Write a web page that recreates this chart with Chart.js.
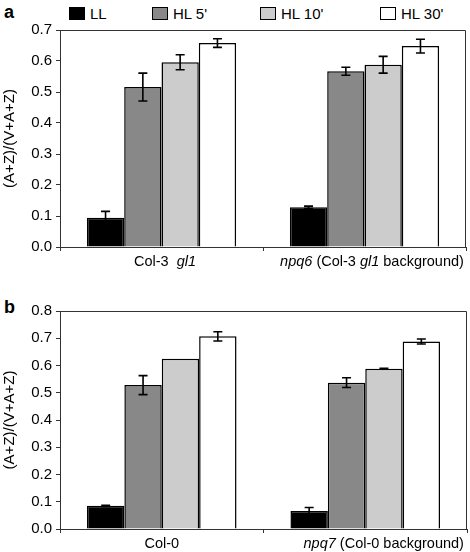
<!DOCTYPE html>
<html>
<head>
<meta charset="utf-8">
<script src="https://cdn.jsdelivr.net/npm/chart.js@4.4.0/dist/chart.umd.min.js"></script>
<style>
  body { margin: 0; background: #fff; font-family: "Liberation Sans", Arial, sans-serif; }
  #wrap { position: relative; width: 470px; height: 552px; }
  canvas { position: absolute; left: 0; }
  .panel { position: absolute; left: 4px; font-weight: bold; font-size: 18px; line-height: 18px; }
  .item { position: absolute; top: 6px; height: 15px; display: flex; align-items: center; font-size: 15px; }
  .sw { width: 14px; height: 11px; border: 1.5px solid #000; margin-right: 5px; }
</style>
</head>
<body>
<div id="wrap">
  <div class="panel" style="top:3px">a</div>
  <div class="panel" style="top:298px">b</div>
  <div id="legend"></div>
  <canvas id="chartA" width="470" height="270" style="top:0"></canvas>
  <canvas id="chartB" width="470" height="282" style="top:270px"></canvas>
</div>
<script>
// series (legend) names and fills
const seriesNames = ["LL", "HL 5'", "HL 10'", "HL 30'"];
const seriesColors = ['#000000', '#888888', '#cccccc', '#ffffff'];

// x labels, as [text, italic] pieces
const labelsA = [
  [['Col-3  ', false], ['gl1', true]],
  [['npq6', true], [' (Col-3 ', false], ['gl1', true], [' background)', false]]
];
const labelsB = [
  [['Col-0', false]],
  [['npq7', true], [' (Col-0 background)', false]]
];

// panel a: one row per series, one value per genotype
const meansA = [
  [0.094, 0.128],
  [0.516, 0.567],
  [0.596, 0.588],
  [0.658, 0.648]
];
const errorsA = [
  [0.021, 0.004],
  [0.045, 0.013],
  [0.024, 0.027],
  [0.014, 0.022]
];
const ticksA = [0, 0.1, 0.2, 0.3, 0.4, 0.5, 0.6, 0.7];

// panel b
const meansB = [
  [0.085, 0.066],
  [0.528, 0.537],
  [0.625, 0.588],
  [0.707, 0.688]
];
const errorsB = [
  [0.002, 0.013],
  [0.035, 0.018],
  [0, 0.002],
  [0.017, 0.009]
];
const ticksB = [0, 0.1, 0.2, 0.3, 0.4, 0.5, 0.6, 0.7, 0.8];

Chart.defaults.font.family = '"Liberation Sans", Arial, sans-serif';
Chart.defaults.font.size = 15;
Chart.defaults.color = '#000';

// legend in html
const legendX = [69, 152, 260, 380];
const legend = document.getElementById('legend');
seriesNames.forEach((name, i) => {
  const it = document.createElement('div');
  it.className = 'item';
  it.style.left = legendX[i] + 'px';
  it.innerHTML = '<span class="sw" style="background:' + seriesColors[i] + '"></span>';
  it.appendChild(document.createTextNode(name));
  legend.appendChild(it);
});

// error bars drawn from the data through the y scale
const errorBars = {
  id: 'errorBars',
  afterDatasetsDraw(chart) {
    const ctx = chart.ctx, y = chart.scales.y;
    ctx.save();
    ctx.strokeStyle = '#000';
    ctx.lineWidth = 1.6;
    chart.data.datasets.forEach((ds, i) => {
      chart.getDatasetMeta(i).data.forEach((bar, j) => {
        const e = ds.errors[j];
        if (!e) return;
        const top = y.getPixelForValue(ds.data[j] + e);
        const bot = y.getPixelForValue(ds.data[j] - e);
        ctx.beginPath();
        ctx.moveTo(bar.x, top); ctx.lineTo(bar.x, bot);
        ctx.moveTo(bar.x - 4.5, top); ctx.lineTo(bar.x + 4.5, top);
        ctx.moveTo(bar.x - 4.5, bot); ctx.lineTo(bar.x + 4.5, bot);
        ctx.stroke();
      });
    });
    ctx.restore();
  }
};

// top and right edges of the plot box
const frame = {
  id: 'frame',
  beforeDatasetsDraw(chart) {
    const a = chart.chartArea, ctx = chart.ctx;
    ctx.save();
    ctx.strokeStyle = '#333';
    ctx.lineWidth = 1;
    ctx.beginPath();
    ctx.moveTo(a.left, a.top + 0.5);
    ctx.lineTo(a.right - 0.5, a.top + 0.5);
    ctx.lineTo(a.right - 0.5, a.bottom);
    ctx.stroke();
    ctx.restore();
  }
};

// category labels with italic pieces
const xLabels = {
  id: 'xLabels',
  afterDraw(chart, args, opts) {
    const ctx = chart.ctx, x = chart.scales.x;
    const fontFor = it => (it ? 'italic ' : '') + '14.5px "Liberation Sans", Arial, sans-serif';
    ctx.save();
    ctx.fillStyle = '#000';
    ctx.textAlign = 'left';
    ctx.textBaseline = 'alphabetic';
    opts.labels.forEach((pieces, i) => {
      let w = 0;
      pieces.forEach(([t, it]) => { ctx.font = fontFor(it); w += ctx.measureText(t).width; });
      let cx = x.getPixelForValue(i) + opts.nudge[i] - w / 2;
      pieces.forEach(([t, it]) => {
        ctx.font = fontFor(it);
        ctx.fillText(t, cx, chart.chartArea.bottom + opts.dy);
        cx += ctx.measureText(t).width;
      });
    });
    ctx.restore();
  }
};

function makeChart(id, labels, means, errors, ticks, pad, nudge) {
  return new Chart(document.getElementById(id), {
    type: 'bar',
    data: {
      labels: labels.map(p => p.map(s => s[0]).join('')),
      datasets: seriesNames.map((name, i) => ({
        label: name,
        data: means[i],
        errors: errors[i],
        backgroundColor: seriesColors[i],
        borderColor: '#000',
        borderWidth: 1.5,
        barPercentage: 1,
        categoryPercentage: 0.735
      }))
    },
    options: {
      responsive: false,
      animation: false,
      layout: { padding: pad },
      plugins: {
        legend: { display: false },
        tooltip: { enabled: false },
        xLabels: { labels: labels, nudge: nudge, dy: 19 }
      },
      scales: {
        x: {
          grid: { display: true, drawOnChartArea: false, tickLength: 4, color: '#333' },
          border: { display: true, color: '#333', width: 1 },
          ticks: { display: false },
          afterFit: s => { s.height = 23; }
        },
        y: {
          min: 0,
          max: ticks[ticks.length - 1],
          afterBuildTicks: s => { s.ticks = ticks.map(v => ({ value: v })); },
          grid: { display: true, drawOnChartArea: false, tickLength: 4, color: '#333' },
          border: { display: true, color: '#333', width: 1 },
          ticks: { padding: 4, autoSkip: false, callback: v => v.toFixed(1) },
          title: { display: true, text: '(A+Z)/(V+A+Z)', padding: { top: 1, bottom: 0 } },
          afterFit: s => { s.width = 60; }
        }
      }
    },
    plugins: [frame, errorBars, xLabels]
  });
}

makeChart('chartA', labelsA, meansA, errorsA, ticksA, { top: 30, right: 4 }, [3.5, 7.5]);
makeChart('chartB', labelsB, meansB, errorsB, ticksB, { top: 41, right: 3 }, [0, 18.5]);
</script>
</body>
</html>
